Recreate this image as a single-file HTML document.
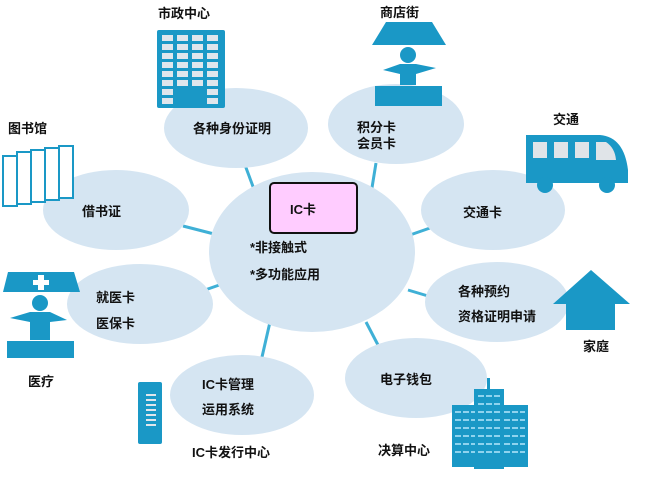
<!DOCTYPE html>
<html><head><meta charset="utf-8"><style>
body{margin:0;background:#fff}
svg{display:block}
text{font-family:"Liberation Sans","Noto Sans CJK SC",sans-serif;font-weight:bold;font-size:13px;fill:#111}
</style></head><body>
<svg width="669" height="489" viewBox="0 0 669 489">
<g stroke="#3fb0d6" stroke-width="3">
<line x1="245" y1="165" x2="258" y2="200"/>
<line x1="376" y1="163" x2="370" y2="200"/>
<line x1="410" y1="235" x2="430" y2="228"/>
<line x1="183" y1="226" x2="218" y2="235"/>
<line x1="205" y1="290" x2="225" y2="283"/>
<line x1="408" y1="290" x2="428" y2="296"/>
<line x1="270" y1="322" x2="262" y2="357"/>
<line x1="366" y1="322" x2="378" y2="345"/>
</g>
<g fill="#d5e5f2">
<ellipse cx="312" cy="252" rx="103" ry="80"/>
<ellipse cx="236" cy="128" rx="72" ry="40"/>
<ellipse cx="396" cy="124" rx="68" ry="40"/>
<ellipse cx="493" cy="210" rx="72" ry="40"/>
<ellipse cx="116" cy="210" rx="73" ry="40"/>
<ellipse cx="140" cy="304" rx="73" ry="40"/>
<ellipse cx="497" cy="302" rx="72" ry="40"/>
<ellipse cx="242" cy="395" rx="72" ry="40"/>
<ellipse cx="416" cy="378" rx="71" ry="40"/>
</g>
<rect x="270" y="183" width="87" height="50" rx="4" fill="#ffccff" stroke="#111" stroke-width="2"/>
<text x="290" y="214" font-size="14">IC卡</text>
<text x="250" y="252">*非接触式</text>
<text x="250" y="279">*多功能应用</text>
<text x="193" y="133">各种身份证明</text>
<text x="357" y="132">积分卡</text>
<text x="357" y="148">会员卡</text>
<text x="463" y="217">交通卡</text>
<text x="82" y="216">借书证</text>
<text x="96" y="302">就医卡</text>
<text x="96" y="328">医保卡</text>
<text x="458" y="296">各种预约</text>
<text x="458" y="321">资格证明申请</text>
<text x="202" y="389">IC卡管理</text>
<text x="202" y="414">运用系统</text>
<text x="380" y="384">电子钱包</text>
<text x="158" y="18">市政中心</text>
<text x="380" y="17">商店街</text>
<text x="553" y="124">交通</text>
<text x="8" y="133">图书馆</text>
<text x="28" y="386">医疗</text>
<text x="583" y="351">家庭</text>
<text x="192" y="457">IC卡发行中心</text>
<text x="378" y="455">决算中心</text>
<g fill="#1a98c6">
<!-- city hall building -->
<rect x="157" y="30" width="68" height="78" rx="2"/>
<g fill="#dfe6ec">
<rect x="162" y="35" width="11" height="6"/><rect x="177" y="35" width="11" height="6"/><rect x="192" y="35" width="11" height="6"/><rect x="207" y="35" width="11" height="6"/>
<rect x="162" y="44" width="11" height="6"/><rect x="177" y="44" width="11" height="6"/><rect x="192" y="44" width="11" height="6"/><rect x="207" y="44" width="11" height="6"/>
<rect x="162" y="53" width="11" height="6"/><rect x="177" y="53" width="11" height="6"/><rect x="192" y="53" width="11" height="6"/><rect x="207" y="53" width="11" height="6"/>
<rect x="162" y="62" width="11" height="6"/><rect x="177" y="62" width="11" height="6"/><rect x="192" y="62" width="11" height="6"/><rect x="207" y="62" width="11" height="6"/>
<rect x="162" y="71" width="11" height="6"/><rect x="177" y="71" width="11" height="6"/><rect x="192" y="71" width="11" height="6"/><rect x="207" y="71" width="11" height="6"/>
<rect x="162" y="80" width="11" height="6"/><rect x="177" y="80" width="11" height="6"/><rect x="192" y="80" width="11" height="6"/><rect x="207" y="80" width="11" height="6"/>
<rect x="162" y="89" width="11" height="6"/><rect x="207" y="89" width="11" height="6"/>
<rect x="162" y="98" width="11" height="6"/><rect x="207" y="98" width="11" height="6"/>
</g>
<!-- shop -->
<path d="M372 45 L386 22 L432 22 L446 45 Z"/>
<circle cx="408" cy="55" r="8"/>
<path d="M383 70 L400 64 L416 64 L436 68 L416 74 L416 85 L400 85 L400 74 Z"/>
<rect x="375" y="86" width="67" height="20"/>
<!-- bus -->
<path d="M526 135 L600 135 Q624 137 628 170 L628 183 L526 183 Z"/>
<circle cx="545" cy="185" r="8"/><circle cx="607" cy="185" r="8"/>
<g fill="#e0e4e8"><rect x="533" y="142" width="14" height="16"/><rect x="554" y="142" width="14" height="16"/><rect x="575" y="142" width="14" height="16"/><path d="M596 142 L606 142 Q615 148 616 160 L596 160 Z"/></g>
<!-- medical -->
<path d="M3 292 L8 272 L74 272 L80 292 Z"/>
<circle cx="40" cy="303" r="8"/>
<path d="M10 318 L30 312 L50 312 L67 320 L50 322 L50 340 L30 340 L30 322 Z"/>
<rect x="7" y="341" width="67" height="17"/>
<!-- house -->
<path d="M591 270 L630 304 L615 304 L615 330 L566 330 L566 304 L553 304 Z"/>
<!-- server -->
<rect x="138" y="382" width="24" height="62" rx="2"/>
<!-- skyscrapers -->
<rect x="452" y="405" width="26" height="62"/>
<rect x="474" y="389" width="30" height="80"/>
<rect x="500" y="405" width="28" height="62"/>
<rect x="487" y="378" width="3" height="12"/>
</g>
<g stroke="#e0e6ec" stroke-width="2">
<line x1="146" y1="395" x2="156" y2="395"/><line x1="146" y1="400" x2="156" y2="400"/><line x1="146" y1="405" x2="156" y2="405"/><line x1="146" y1="410" x2="156" y2="410"/><line x1="146" y1="415" x2="156" y2="415"/><line x1="146" y1="420" x2="156" y2="420"/><line x1="146" y1="425" x2="156" y2="425"/>
</g>
<path d="M38 275 h6 v5 h5 v5 h-5 v5 h-6 v-5 h-5 v-5 h5 Z" fill="#fff"/>
<g stroke="#8fd3ee" stroke-width="2" stroke-dasharray="6 2">
<line x1="455" y1="412" x2="475" y2="412"/><line x1="455" y1="420" x2="475" y2="420"/><line x1="455" y1="428" x2="475" y2="428"/><line x1="455" y1="436" x2="475" y2="436"/><line x1="455" y1="444" x2="475" y2="444"/><line x1="455" y1="452" x2="475" y2="452"/>
<line x1="478" y1="396" x2="500" y2="396"/><line x1="478" y1="404" x2="500" y2="404"/><line x1="478" y1="412" x2="500" y2="412"/><line x1="478" y1="420" x2="500" y2="420"/><line x1="478" y1="428" x2="500" y2="428"/><line x1="478" y1="436" x2="500" y2="436"/><line x1="478" y1="444" x2="500" y2="444"/><line x1="478" y1="452" x2="500" y2="452"/>
<line x1="504" y1="412" x2="525" y2="412"/><line x1="504" y1="420" x2="525" y2="420"/><line x1="504" y1="428" x2="525" y2="428"/><line x1="504" y1="436" x2="525" y2="436"/><line x1="504" y1="444" x2="525" y2="444"/><line x1="504" y1="452" x2="525" y2="452"/>
</g>
<!-- books -->
<g fill="#fff" stroke="#1a98c6" stroke-width="2">
<rect x="3" y="156" width="14" height="50"/><rect x="17" y="152" width="14" height="52"/><rect x="31" y="150" width="14" height="52"/><rect x="45" y="148" width="14" height="52"/><rect x="59" y="146" width="14" height="52"/>
</g>
</svg>
</body></html>
